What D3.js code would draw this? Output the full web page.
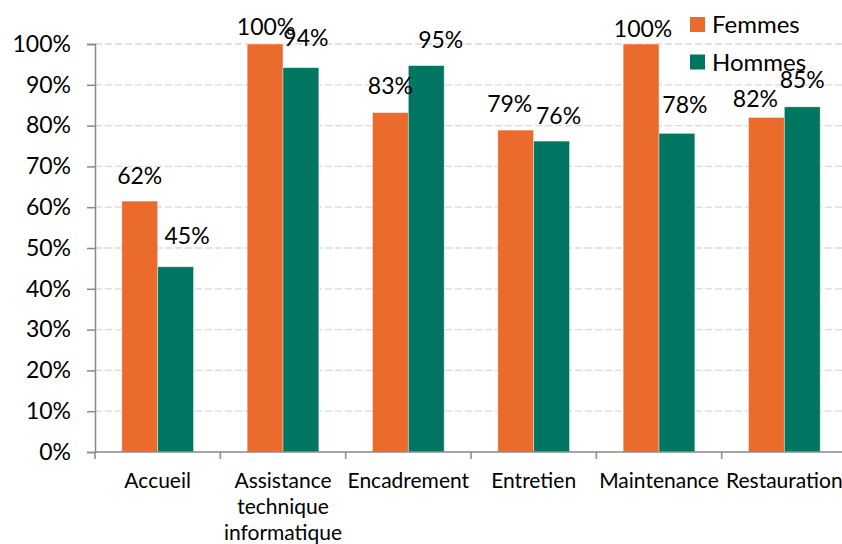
<!DOCTYPE html>
<html><head><meta charset="utf-8">
<script src="https://cdn.jsdelivr.net/npm/d3@7"></script>
<style>
html,body{margin:0;padding:0;background:#fff;}
svg{display:block;font-family:Lato, "Open Sans", sans-serif;}
</style></head>
<body><svg id="chart" width="842" height="544"></svg>
<script>
const categories = ["Accueil", "Assistance technique informatique", "Encadrement", "Entretien", "Maintenance", "Restauration"];
const seriesNames = ["Femmes", "Hommes"];
const femmes = [61.5, 100, 83.2, 78.9, 100, 82.0];
const hommes = [45.4, 94.2, 94.7, 76.2, 78.1, 84.6];
const yTicks = [0, 10, 20, 30, 40, 50, 60, 70, 80, 90, 100];

// layout-only label nudges (Excel hand-placed labels)
const labelDx = [[0, 1, 0, -6, 2, -11], [11.5, 5, 14.5, 7, 8, 0]];
const labelDy = [[-25.5, -17.5, -26.7, -26.5, -15.3, -18.7], [-31.7, -30, -26, -26, -28.5, -27.3]];

const colors = ["#EA6B2C", "#007562"];
const svg = d3.select("#chart");
const pLeft = 95, pRight = 847, pTop = 44, pBottom = 452;

const x = d3.scaleBand().domain(categories).range([pLeft, pRight]).paddingInner(0.428).paddingOuter(0.214);
const xs = d3.scaleBand().domain(seriesNames).range([0, x.bandwidth()]);
const y = d3.scaleLinear().domain([0, 100]).range([pBottom, pTop]);

// gridlines
svg.append("g").selectAll("line").data(yTicks.filter(d => d > 0)).join("line")
  .attr("x1", pLeft).attr("x2", pRight)
  .attr("y1", d => y(d)).attr("y2", d => y(d))
  .attr("stroke", "#D9D9D9").attr("stroke-width", 1.3).attr("stroke-dasharray", "7,3");

// bars
const data = [femmes, hommes];
const groups = svg.append("g").selectAll("g").data(seriesNames).join("g")
  .attr("fill", (d, i) => colors[i]);
groups.each(function (s, si) {
  d3.select(this).selectAll("rect").data(data[si]).join("rect")
    .attr("x", (d, i) => x(categories[i]) + xs(s))
    .attr("width", xs.bandwidth())
    .attr("y", d => y(d))
    .attr("height", d => pBottom - y(d))
    .attr("stroke", "#ffffff").attr("stroke-opacity", 0.5).attr("stroke-width", 0.8);
});

// value labels
const fmt = v => Math.round(v) + "%";
seriesNames.forEach((s, si) => {
  svg.append("g").selectAll("text").data(data[si]).join("text")
    .attr("x", (d, i) => x(categories[i]) + xs(s) + xs.bandwidth() / 2 + labelDx[si][i])
    .attr("y", (d, i) => y(d) + labelDy[si][i] + 8.5)
    .attr("text-anchor", "middle")
    .attr("font-size", 23).attr("fill", "#000")
    .text(d => fmt(d));
});

// y axis
const yAxis = d3.axisLeft(y).tickValues(yTicks).tickFormat(d => d + "%").tickSize(8).tickPadding(16);
const ga = svg.append("g").attr("transform", `translate(${pLeft},0)`).call(yAxis);
ga.select(".domain").attr("stroke", "#898989").attr("stroke-width", 1.5);
ga.selectAll(".tick line").attr("stroke", "#898989").attr("stroke-width", 1.5);
ga.selectAll(".tick text").attr("font-size", 23).attr("fill", "#000").attr("font-family", "Lato");

// x axis
svg.append("line").attr("x1", pLeft).attr("x2", pRight).attr("y1", pBottom).attr("y2", pBottom)
  .attr("stroke", "#898989").attr("stroke-width", 1.5);
svg.append("g").selectAll("line").data(d3.range(categories.length + 1)).join("line")
  .attr("x1", i => pLeft + i * x.step()).attr("x2", i => pLeft + i * x.step())
  .attr("y1", pBottom).attr("y2", pBottom + 7)
  .attr("stroke", "#898989").attr("stroke-width", 1.5);

// category labels with wrapping
const cl = svg.append("g").selectAll("text").data(categories).join("text")
  .attr("x", d => x(d) + x.bandwidth() / 2)
  .attr("y", 488)
  .attr("text-anchor", "middle").attr("font-size", 21).attr("fill", "#000");
cl.each(function (d) {
  const t = d3.select(this);
  const words = d.split(" ");
  let line = [];
  let ts = t.append("tspan").attr("x", t.attr("x")).attr("dy", 0);
  words.forEach(w => {
    line.push(w);
    ts.text(line.join(" "));
    if (ts.node().getComputedTextLength() > 122 && line.length > 1) {
      line.pop();
      ts.text(line.join(" "));
      line = [w];
      ts = t.append("tspan").attr("x", t.attr("x")).attr("dy", 26).text(w);
    }
  });
});

// legend
const lg = svg.append("g").selectAll("g").data(seriesNames).join("g")
  .attr("transform", (d, i) => `translate(690,${17 + i * 37.5})`);
lg.append("rect").attr("width", 15).attr("height", 15).attr("fill", (d, i) => colors[i]);
lg.append("text").attr("x", 22).attr("y", 16).attr("font-size", 24).attr("fill", "#000").text(d => d);
</script></body></html>
